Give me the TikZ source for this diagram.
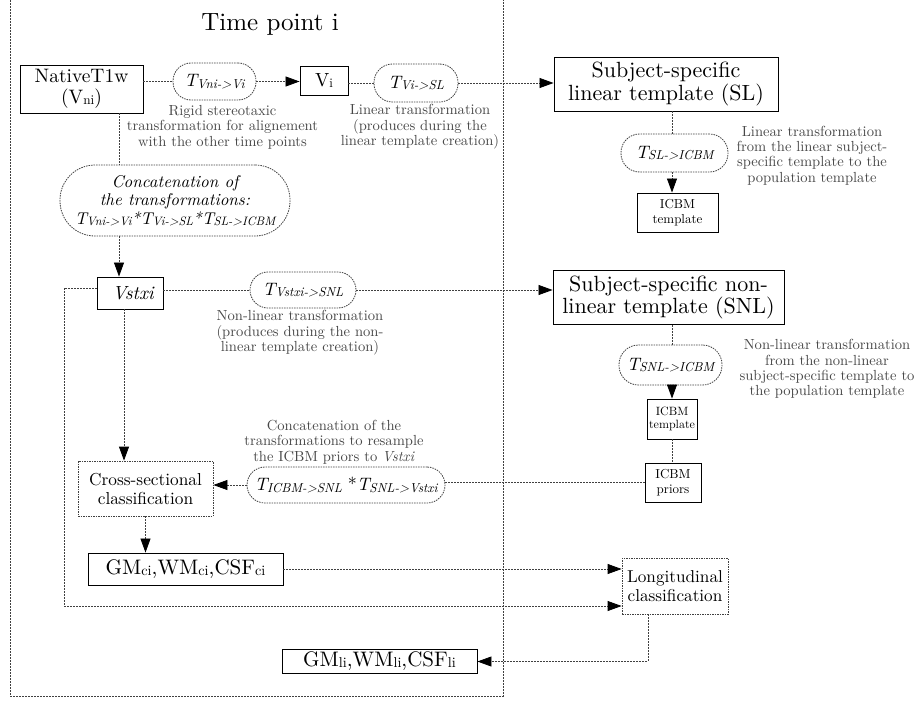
\documentclass[tikz,border=0pt]{standalone}
\usepackage{graphicx}
\usepackage{fontspec}
\setmainfont{lmroman10-regular.otf}[ItalicFont=lmroman10-italic.otf, BoldFont=lmroman10-bold.otf]
\usetikzlibrary{arrows.meta,calc}
\newcommand\myfs[2]{\fontsize{#1}{#2}\selectfont}
\newcommand\mylo[1]{\raisebox{-0.12ex}{\scalebox{0.68}{#1}}}
\newcommand\Tsb[1]{\textit{T\kern-0.3pt\raisebox{-0.2ex}{\scalebox{0.72}{#1}}}}
\tikzset{
  every node/.style={align=center, inner sep=0pt},
  solidbox/.style={draw=black, line width=0.9pt, rectangle},
  dotbox/.style={draw=black!75, line width=0.8pt, dash pattern=on 1.5pt off 1pt, rectangle},
  pill/.style={draw=black!75, line width=0.8pt, dash pattern=on 1.5pt off 1pt, rounded corners=#1},
  conn/.style={draw=black!75, line width=0.8pt, dash pattern=on 2pt off 1pt},
  arr/.style={conn, -{Triangle[length=14pt,width=10pt,color=black]}},
  ann/.style={text=black!72, font=\myfs{14.6}{15.4}, align=center},
}
\begin{document}
\begin{tikzpicture}[x=1pt,y=-1pt]
\useasboundingbox (0,0) rectangle (920,701);
% frame
\draw[conn] (10,0) -- (10,696) -- (503,696) -- (503,0);
\node[font=\myfs{25}{28}] (title) at (270,24) {Time point i};

% top row
\node[solidbox, minimum width=123pt, minimum height=48pt, font=\myfs{19.5}{21}] (N) at (81.5,89) {NativeT1w\\(V\mylo{ni})};
\node[pill=18pt, minimum width=83pt, minimum height=37pt, font=\myfs{18}{20}] (T1) at (214.5,81.5) {\Tsb{Vni->Vi}};
\node[solidbox, minimum width=48pt, minimum height=29pt, font=\myfs{19}{21}] (Vi) at (324,80.5) {V\mylo{i}};
\node[pill=18.5pt, minimum width=84pt, minimum height=38pt, font=\myfs{18}{20}] (T2) at (416,83) {\Tsb{Vi->SL}};
\node[solidbox, minimum width=224pt, minimum height=54pt, font=\myfs{22}{22.5}] (SL) at (666,84) {Subject-specific\\linear template (SL)};
\node[pill=18.5pt, minimum width=107pt, minimum height=38pt, font=\myfs{18}{20}] (T3) at (674.5,153) {\Tsb{SL->ICBM}};
\node[solidbox, minimum width=81pt, minimum height=39pt, font=\myfs{13}{14.5}] (I1) at (677.5,212.5) {ICBM\\template};

\node[ann] (L1) at (222.5,127) {Rigid stereotaxic\\transformation for alignement\\with the other time points};
\node[ann] (L2) at (420,127) {Linear transformation\\(produces during the\\linear template creation)};
\node[ann] (L3) at (812,155.5) {Linear transformation\\from the linear subject-\\specific template to the\\population template};

\draw[conn] (N.east |- T1.west) -- (T1.west);
\draw[arr] (T1.east) -- (Vi.west |- T1.east);
\draw[conn] (Vi.east |- T2.west) -- (T2.west);
\draw[arr] (T2.east) -- (SL.west |- T2.east);
\coordinate (v1) at (672,0);
\draw[conn] (SL.south -| v1) -- (T3.north -| v1);
\draw[arr] (T3.south -| v1) -- (I1.north -| v1);

% concatenation
\node[pill=35pt, minimum width=230pt, minimum height=71pt, font=\myfs{17}{18.5}\itshape] (C) at (175,200.5) {Concatenation of\\the transformations:\\\Tsb{Vni->Vi}*\Tsb{Vi->SL}*\Tsb{SL->ICBM}};
\coordinate (cx) at (119,0);
\draw[conn] (N.south -| cx) -- (C.north -| cx);

\node[solidbox, minimum width=66pt, minimum height=32pt, font=\myfs{19}{21}\itshape] (Vs) at (130,293) {\hspace{6pt}Vstxi};
\draw[arr] (C.south -| cx) -- (Vs.north -| cx);

\node[pill=18pt, minimum width=106pt, minimum height=36pt, font=\myfs{18}{20}] (T4) at (303,290) {\Tsb{Vstxi->SNL}};
\node[ann] (L4) at (300,333) {Non-linear transformation\\(produces during the non-\\linear template creation)};
\node[solidbox, minimum width=231pt, minimum height=54pt, font=\myfs{22}{22.5}] (SNL) at (668.5,297.5) {Subject-specific non-\\linear template (SNL)};
\draw[conn] (Vs.east |- T4.west) -- (T4.west);
\draw[arr] (T4.east) -- (SNL.west |- T4.east);

\node[pill=19.5pt, minimum width=103pt, minimum height=40pt, font=\myfs{18}{20}] (T5) at (670.5,365) {\Tsb{SNL->ICBM}};
\node[solidbox, minimum width=50pt, minimum height=40pt, font=\myfs{12}{13.5}] (I2) at (672,419) {ICBM\\template};
\node[ann] (L5) at (827,369) {Non-linear transformation\\from the non-linear\\subject-specific template to\\the population template};
\draw[conn] (SNL.south -| v1) -- (T5.north -| v1);
\draw[arr] (T5.south -| v1) -- (I2.north -| v1);

\node[solidbox, minimum width=56pt, minimum height=39pt, font=\myfs{13}{14.5}] (P) at (673,482.5) {ICBM\\priors};
\draw[conn] (I2.south -| v1) -- (P.north -| v1);

\node[pill=18pt, minimum width=198pt, minimum height=36pt, font=\myfs{18}{20}] (T6) at (346,485) {\Tsb{ICBM->SNL} *\Tsb{SNL->Vstxi}};
\node[ann] (L6) at (334,442) {Concatenation of the\\transformations to resample\\the ICBM priors to \textit{Vstxi}};
\node[dotbox, minimum width=135pt, minimum height=55pt, font=\myfs{17.3}{19}] (CS) at (145.5,488.5) {Cross-sectional\\classification};
\draw[conn] (P.west) -- (P.west -| T6.east);
\draw[arr] (T6.west) -- (T6.west -| CS.east);
\coordinate (vx) at (124,0);
\draw[arr] (Vs.south -| vx) -- (CS.north -| vx);

\node[solidbox, minimum width=195pt, minimum height=32pt, font=\myfs{21}{22}] (GMc) at (185.5,569) {GM\mylo{ci},WM\mylo{ci},CSF\mylo{ci}};
\draw[arr] (CS.south) -- (CS.south |- GMc.north);

\node[dotbox, minimum width=106pt, minimum height=56pt, font=\myfs{17.2}{19}] (Lg) at (675,586) {Longitudinal\\classification};
\draw[arr] (GMc.east) -- (Lg.west |- GMc.east);
\coordinate (vl) at (64,288);
\coordinate (lb) at (0,606);
\draw[arr] (Vs.west |- vl) -- (vl) -- (vl |- lb) -- (Lg.west |- lb);

\node[solidbox, minimum width=195pt, minimum height=24pt, font=\myfs{21}{22}] (GMl) at (379.5,661.5) {GM\mylo{li},WM\mylo{li},CSF\mylo{li}};
\coordinate (lx) at (648,0);
\draw[arr] (Lg.south -| lx) -- (lx |- GMl.east) -- (GMl.east);
\end{tikzpicture}
\end{document}
